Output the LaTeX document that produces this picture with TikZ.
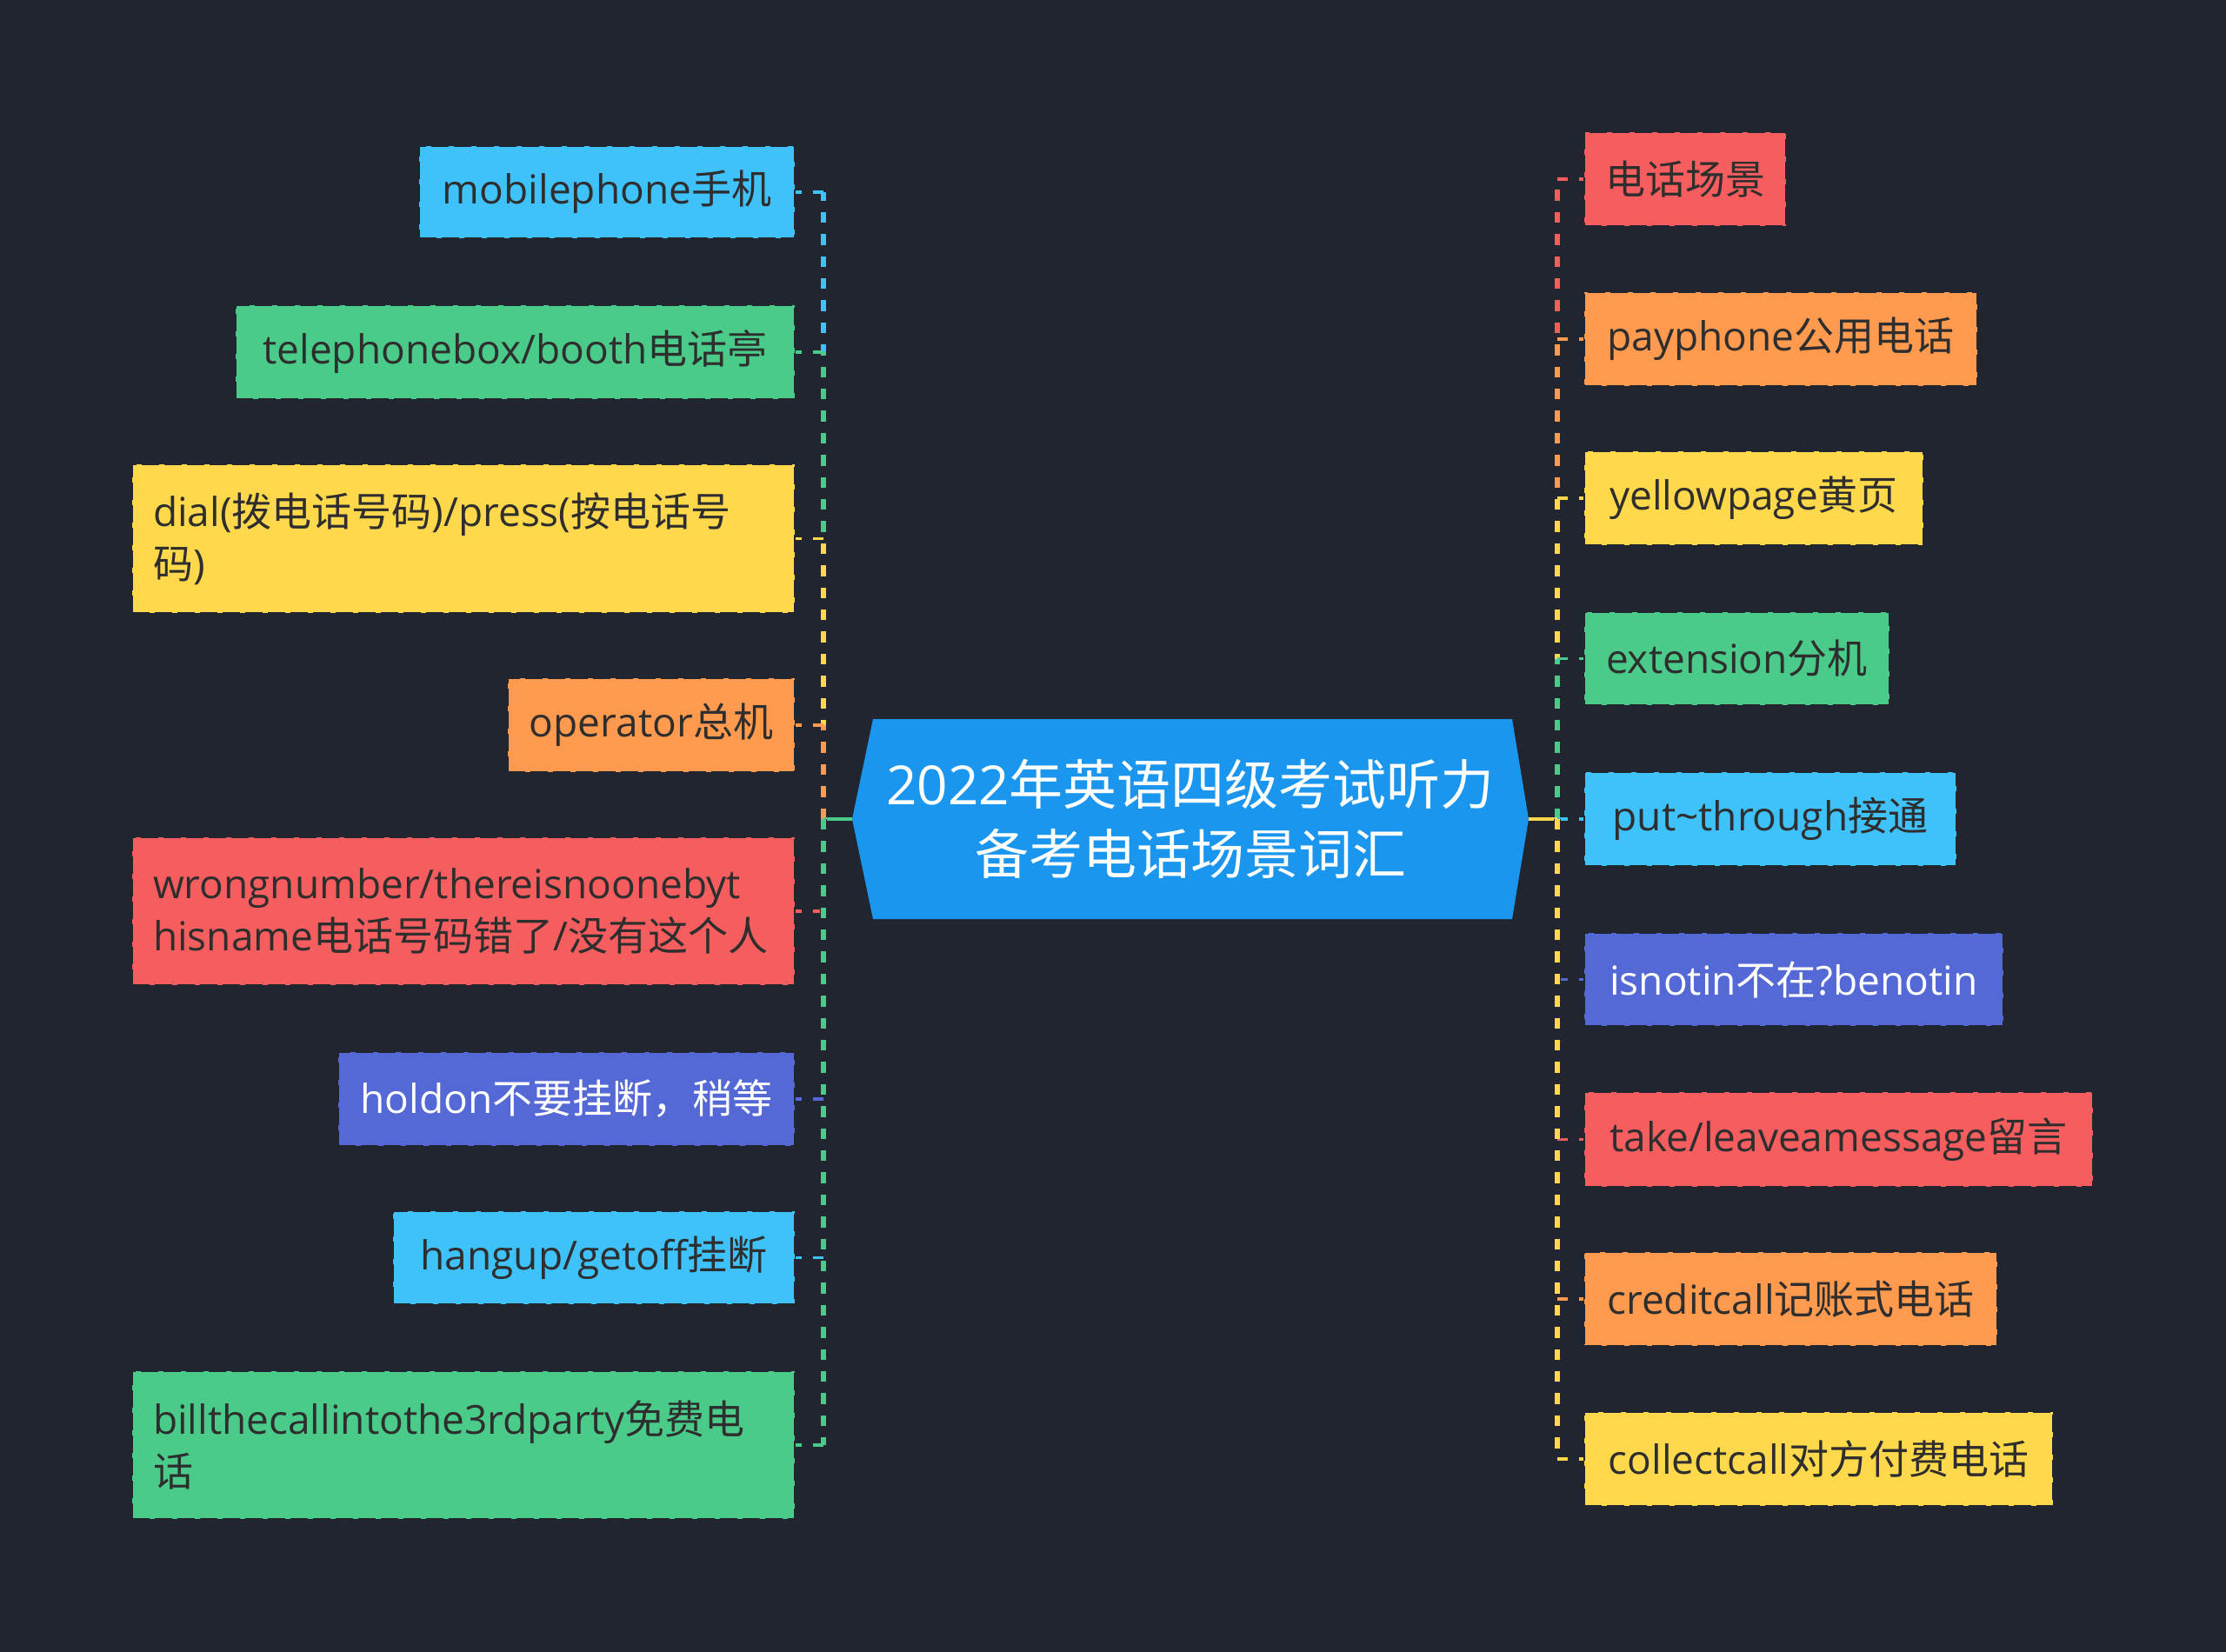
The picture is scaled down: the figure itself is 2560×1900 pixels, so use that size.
\documentclass[tikz,border=0pt]{standalone}
\usepackage{fontspec}
\setmainfont{Open Sans}
\newfontfamily\cjk{Noto Sans CJK SC}
\newcommand\zh[1]{{\cjk #1}}
\definecolor{bg}{HTML}{21252F}
\definecolor{cblue}{HTML}{3FC1FA}
\definecolor{cgreen}{HTML}{4ACB89}
\definecolor{cyellow}{HTML}{FFD84C}
\definecolor{corange}{HTML}{FF9A4E}
\definecolor{cred}{HTML}{F65D5E}
\definecolor{cindigo}{HTML}{5468D6}
\definecolor{croot}{HTML}{1A96EE}
\definecolor{ctext}{HTML}{2E2E2E}
\tikzset{
  mmbox/.style={draw=bg, line width=1.3pt, dash pattern=on 10pt off 3pt, inner xsep=12pt, inner ysep=0pt,
    font={\fontsize{23}{30}\selectfont}},
  multi/.style={align=left, text width=357pt},
  solidconn/.style={draw=#1, line width=2.4pt},
  spineconn/.style={draw=bg, line width=0.4pt, double=#1, double distance=3pt, dash pattern=on 6.2pt off 6.5pt},
  stubconn/.style={draw=#1, line width=1.6pt, dash pattern=on 6.2pt off 6.5pt},
  roottext/.style={text=white, align=center, font={\fontsize{31}{40}\selectfont}, inner sep=0pt}
}
\newcommand\mmbox[8]{\node[mmbox, fill=#5, text=#6, minimum width={(#3-#1)*0.5pt}, minimum height={(#4-#2)*0.5pt}] (#7) at ({(#1+#3)/2},{(#2+#4)/2}) {#8};}
\newcommand\mmboxm[8]{\node[mmbox, multi, fill=#5, text=#6, minimum width={(#3-#1)*0.5pt}, minimum height={(#4-#2)*0.5pt}] (#7) at ({(#1+#3)/2},{(#2+#4)/2}) {#8};}
\begin{document}
\begin{tikzpicture}[x=0.5pt,y=-0.5pt]
\fill[bg] (0,0) rectangle (2560,1900);
\useasboundingbox (0,0) rectangle (2560,1900);
% root
\fill[croot] (1004,827) -- (1739,827) -- (1758,942) -- (1739,1057) -- (1004,1057) -- (980,942) -- cycle;
\node[roottext] (root) at (1369,942) {2022\zh{年英语四级考试听力}\\\zh{备考电话场景词汇}};
\coordinate (rootL) at (980,942);
\coordinate (rootR) at (1758,942);
\coordinate (spL) at (947,942);
\coordinate (spR) at (1791,942);
% left nodes
\mmbox{482}{168}{914}{274}{cblue}{ctext}{L1}{mobilephone\zh{手机}}
\mmbox{271}{351}{914}{459}{cgreen}{ctext}{L2}{telephonebox/booth\zh{电话亭}}
\mmboxm{152}{534}{914}{705}{cyellow}{ctext}{L3}{dial(\zh{拨电话号码})/press(\zh{按电话号}\\\zh{码})}
\mmbox{584}{780}{914}{888}{corange}{ctext}{L4}{operator\zh{总机}}
\mmboxm{152}{963}{914}{1133}{cred}{ctext}{L5}{wrongnumber/thereisnoonebyt\\hisname\zh{电话号码错了}/\zh{没有这个人}}
\mmbox{389}{1210}{914}{1318}{cindigo}{white}{L6}{holdon\zh{不要挂断，稍等}}
\mmbox{452}{1393}{914}{1500}{cblue}{ctext}{L7}{hangup/getoff\zh{挂断}}
\mmboxm{152}{1577}{914}{1747}{cgreen}{ctext}{L8}{billthecallintothe3rdparty\zh{免费电}\\\zh{话}}
% right nodes
\mmbox{1822}{152}{2054}{260}{cred}{ctext}{R1}{\zh{电话场景}}
\mmbox{1822}{336}{2274}{444}{corange}{ctext}{R2}{payphone\zh{公用电话}}
\mmbox{1822}{519}{2212}{627}{cyellow}{ctext}{R3}{yellowpage\zh{黄页}}
\mmbox{1822}{704}{2173}{811}{cgreen}{ctext}{R4}{extension\zh{分机}}
\mmbox{1822}{888}{2250}{996}{cblue}{ctext}{R5}{put\textasciitilde through\zh{接通}}
\mmbox{1822}{1073}{2304}{1180}{cindigo}{white}{R6}{isnotin\zh{不在}?benotin}
\mmbox{1822}{1256}{2407}{1365}{cred}{ctext}{R7}{take/leaveamessage\zh{留言}}
\mmbox{1822}{1440}{2297}{1548}{corange}{ctext}{R8}{creditcall\zh{记账式电话}}
\mmbox{1822}{1624}{2361}{1732}{cyellow}{ctext}{R9}{collectcall\zh{对方付费电话}}
% left connectors
\foreach \n/\c in {L1/cblue,L2/cgreen,L3/cyellow,L4/corange,L5/cred,L6/cindigo,L7/cblue,L8/cgreen}{
  \draw[solidconn=\c] (rootL) -- (spL);
  \draw[spineconn=\c] (spL) -- (spL |- \n.east);
  \draw[stubconn=\c] (spL |- \n.east) -- (\n.east);
}
% right connectors
\foreach \n/\c in {R1/cred,R2/corange,R3/cyellow,R4/cgreen,R5/cblue,R6/cindigo,R7/cred,R8/corange,R9/cyellow}{
  \draw[solidconn=\c] (rootR) -- (spR);
  \draw[spineconn=\c] (spR) -- (spR |- \n.west);
  \draw[stubconn=\c] (spR |- \n.west) -- (\n.west);
}
\end{tikzpicture}
\end{document}
